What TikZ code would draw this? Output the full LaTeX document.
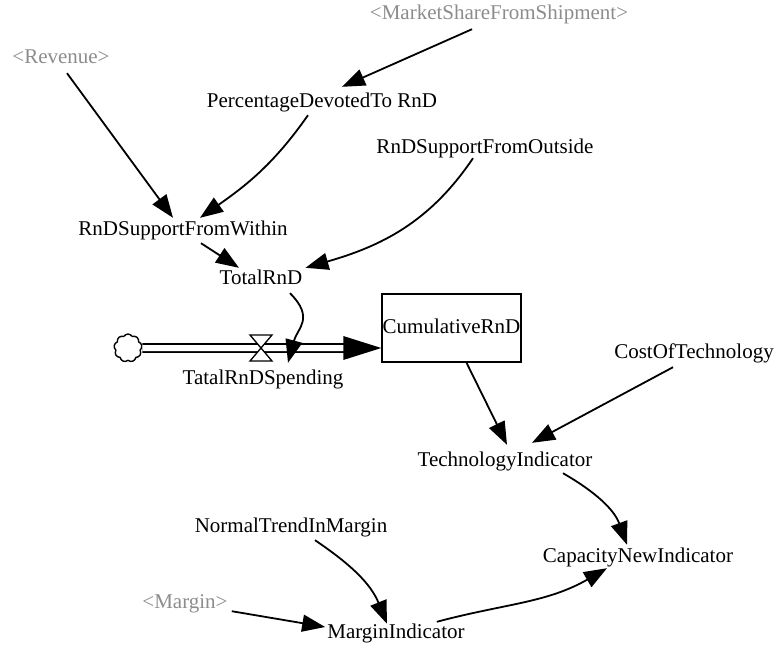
\documentclass[tikz,border=0pt]{standalone}
\usepackage{fontspec}
\setmainfont{Liberation Serif}
\usetikzlibrary{arrows.meta,calc,shapes.symbols}
\definecolor{shadowgray}{RGB}{140,140,140}
\begin{document}
\begin{tikzpicture}[x=1pt,y=-1pt,
  var/.style={inner sep=0pt, text height=15pt, text depth=5pt, font=\fontsize{21}{24}\selectfont},
  shadowvar/.style={var, text=shadowgray},
  stockbox/.style={draw, line width=1.4pt, minimum width=139pt, minimum height=68pt, inner sep=0pt, text height=15pt, text depth=5pt, font=\fontsize{21}{24}\selectfont},
  link/.style={line width=1.8pt, -{Triangle[length=23pt,width=17pt]}},
  pipe/.style={double, double distance=6pt, line width=1.9pt},
  source/.style={cloud, cloud puffs=9, cloud puff arc=120, aspect=1, draw, line width=1.4pt, fill=white, inner sep=0pt, minimum size=28pt},
  valveshape/.style={line width=1.3pt, fill=white}]
\useasboundingbox (0,0) rectangle (778,651);

% variables
\node[shadowvar] (ms) at (499,14) {<MarketShareFromShipment>};
\node[shadowvar] (rev) at (61,58) {<Revenue>};
\node[var] (pct) at (322,102) {PercentageDevotedTo RnD};
\node[var] (out) at (485,148) {RnDSupportFromOutside};
\node[var] (within) at (183,230) {RnDSupportFromWithin};
\node[var] (total) at (261,279) {TotalRnD};
\node[stockbox] (cum) at (451.5,328) {CumulativeRnD};
\node[source] (cloud) at (128,348) {};
\coordinate (valve) at (261,348);
\node[var] (spend) at (263,379) {TatalRnDSpending};
\node[var] (cost) at (694,353) {CostOfTechnology};
\node[var] (tech) at (505,461) {TechnologyIndicator};
\node[var] (normal) at (291,527) {NormalTrendInMargin};
\node[var] (cap) at (638,557) {CapacityNewIndicator};
\node[shadowvar] (margin) at (185,603) {<Margin>};
\node[var] (mi) at (396,633) {MarginIndicator};

% flow pipe
\coordinate (pipeend) at ($(cum.west)+(0,20)$);
\draw[pipe] (cloud.east) -- ($(pipeend)+(-36,0)$);
\fill ($(pipeend)+(-38,-12)$) -- (pipeend) -- ($(pipeend)+(-38,12)$) -- cycle;
\draw[valveshape] ($(valve)+(-11,-13)$) -- ($(valve)+(11,-13)$) -- ($(valve)+(-11,13)$) -- ($(valve)+(11,13)$) -- cycle;

% links
\draw[link] ($(ms.south)+(-27,5)$) -- ($(pct.north)+(20,-5)$);
\draw[link] ($(rev.south)+(6,5)$) -- ($(within.north)+(-10,-2)$);
\draw[link] ($(pct.south)+(-14,3)$) to[out=-125,in=35] ($(within.north)+(17,-2)$);
\draw[link] ($(out.south)+(-12,0)$) to[out=-124,in=16] ($(total.north east)+(3,-1)$);
\draw[link] ($(within.south)+(18,3)$) -- ($(total.north)+(-22,-1)$);
\draw[link] ($(total.south)+(29,4)$) to[out=-45,in=75,looseness=1.3] ($(spend.north)+(25,-6)$);
\draw[link] ($(cum.south)+(15,0)$) -- ($(tech.north)+(2,-6)$);
\draw[link] ($(cost.south)+(-21,4)$) -- ($(tech.north)+(27,-8)$);
\draw[link] ($(tech.south)+(58,2)$) to[out=-30,in=110] ($(cap.north)+(-11,-2)$);
\draw[link] ($(normal.south)+(24,3)$) to[out=-34,in=112] ($(mi.north)+(-9,1)$);
\draw[link] ($(margin.south east)+(4,-2)$) -- ($(mi.west)+(-2,-6)$);
\draw[link] ($(mi.north east)+(-28,-1)$) to[out=15,in=-150] ($(cap.south)+(-31,1)$);
\end{tikzpicture}
\end{document}
